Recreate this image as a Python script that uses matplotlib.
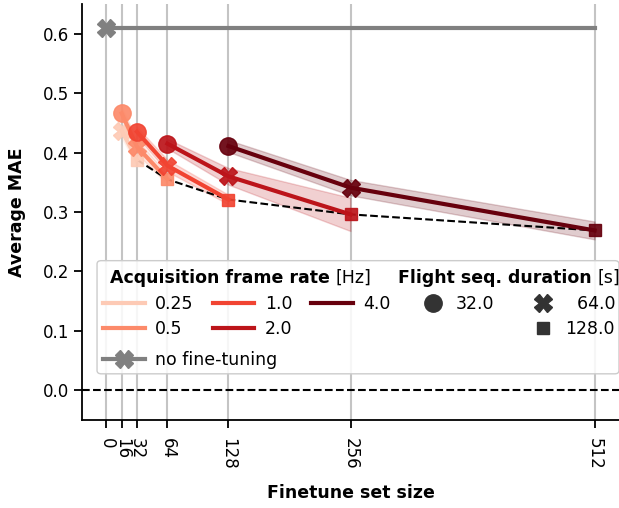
import numpy as np
import pandas as pd
import matplotlib.pyplot as plt
from matplotlib.lines import Line2D
from matplotlib.patches import FancyBboxPatch
from matplotlib.transforms import offset_copy

# acquisition frame rates [Hz] and flight sequence durations [s]
rates = [0.25, 0.5, 1.0, 2.0, 4.0]
durations = [32.0, 64.0, 128.0]

# average MAE per rate, one value per duration (nan = not run)
mae_025 = [np.nan, 0.437, 0.388]
mae_05 = [0.466, 0.410, 0.355]
mae_1 = [0.435, 0.378, 0.321]
mae_2 = [0.415, 0.360, 0.296]
mae_4 = [0.411, 0.341, 0.269]

# spread of the shaded bands
std_025 = [np.nan, 0.012, 0.010]
std_05 = [0.010, 0.012, 0.008]
std_1 = [0.008, 0.010, 0.008]
std_2 = [0.008, 0.014, 0.028]
std_4 = [0.010, 0.013, 0.015]

no_finetune_mae = 0.61

mae_all = [mae_025, mae_05, mae_1, mae_2, mae_4]
std_all = [std_025, std_05, std_1, std_2, std_4]

rows = []
for r, m_list, s_list in zip(rates, mae_all, std_all):
    for d, m, s in zip(durations, m_list, s_list):
        rows.append([r, d, r * d, m, s])
df = pd.DataFrame(rows, columns=["rate", "duration", "size", "mae", "std"]).dropna()

renk = plt.cm.Reds(np.linspace(0.2, 1.0, len(rates)))
markers = {32.0: "o", 64.0: "X", 128.0: (4, 0, 45)}
MS = 12.5
FS = 12.5

plt.rcParams["font.family"] = "DejaVu Sans"
plt.rcParams["font.size"] = 12

fig = plt.figure(figsize=(6.19, 5.08), dpi=100)
ax = fig.add_axes([82 / 619, 88 / 508, 537 / 619, 416 / 508])

ticks = [0] + sorted(df["size"].unique().tolist())
ax.set_xticks(ticks)
ax.set_xticklabels([str(int(t)) for t in ticks], rotation=270)
ax.grid(axis="x", color="#c4c4c4", lw=1.5, zorder=0)
ax.set_axisbelow(True)

# no fine-tuning baseline
ax.plot([0, max(ticks)], [no_finetune_mae, no_finetune_mae], color="grey", lw=3,
        marker="X", ms=MS, markevery=[0], zorder=2)
ax.axhline(0, color="k", ls="--", lw=1.5, zorder=2)

# best result per set size
best = df.groupby("size")["mae"].min()
ax.plot(best.index, best.values, color="k", ls="--", lw=1.5, zorder=2.5)

for i, r in enumerate(rates):
    sub = df[df["rate"] == r].sort_values("size")
    c = renk[i]
    z = 3 + i * 0.1
    ax.fill_between(sub["size"], sub["mae"] - sub["std"], sub["mae"] + sub["std"],
                    color=c, alpha=0.2, lw=1, zorder=1.5)
    ax.plot(sub["size"], sub["mae"], color=c, lw=3, zorder=z)
    for _, row in sub.iterrows():
        ax.plot(row["size"], row["mae"], ls="none", marker=markers[row["duration"]],
                ms=MS, color=c, mec=c, alpha=0.92, zorder=z + 0.05)

ax.set_xlim(-25.6, 537.6)
ax.set_ylim(-0.05, 0.65)
ax.set_yticks([0.0, 0.1, 0.2, 0.3, 0.4, 0.5, 0.6])
ax.set_yticklabels(["0.0", "0.1", "0.2", "0.3", "0.4", "0.5", "0.6"])
ax.set_xlabel("Finetune set size", fontweight="bold", fontsize=FS, labelpad=10)
ax.set_ylabel("Average MAE", fontweight="bold", fontsize=FS, labelpad=12)
for s in ["top", "right"]:
    ax.spines[s].set_visible(False)
for s in ["left", "bottom"]:
    ax.spines[s].set_linewidth(1.3)
ax.tick_params(length=6, width=1.3)
ax.tick_params(axis="x", pad=7)

# legend frame
kutu = FancyBboxPatch((0.028, 0.111), 0.972, 0.272, boxstyle="round,pad=0,rounding_size=0.008",
                      transform=ax.transAxes, fc=(1, 1, 1, 0.85), ec="#cccccc", lw=1,
                      zorder=4.9, clip_on=False)
ax.add_patch(kutu)

# legend titles: bold name + plain unit
fig.canvas.draw()
for x0, isim, birim in [(0.052, "Acquisition frame rate", "[Hz]"),
                        (0.5885, "Flight seq. duration", "[s]")]:
    t = ax.text(x0, 0.329, isim, transform=ax.transAxes, fontsize=FS, fontweight="bold",
                ha="left", va="baseline", zorder=6)
    bb = t.get_window_extent(renderer=fig.canvas.get_renderer())
    x1 = ax.transAxes.inverted().transform((bb.x1, bb.y0))[0]
    ax.text(x1, 0.329, birim, transform=offset_copy(ax.transAxes, fig=fig, x=6, units="dots"),
            fontsize=FS, ha="left", va="baseline", zorder=6)

blank = Line2D([], [], ls="none")
hA = [Line2D([], [], color=c, lw=3) for c in renk] + [blank]
lA = [str(r) for r in rates] + [""]
legA = ax.legend(hA, lA, loc="upper left", bbox_to_anchor=(0.039, 0.300), ncol=3,
                 frameon=False, fontsize=FS, handlelength=2.4, handletextpad=0.6,
                 columnspacing=1.1, labelspacing=0.4, borderpad=0, borderaxespad=0)
ax.add_artist(legA)

hC = [Line2D([], [], color="grey", lw=3, marker="X", ms=MS)]
legC = ax.legend(hC, ["no fine-tuning"], loc="upper left", bbox_to_anchor=(0.039, 0.165),
                 frameon=False, fontsize=FS, handlelength=2.4, handletextpad=0.6,
                 borderpad=0, borderaxespad=0)
ax.add_artist(legC)

hB = [Line2D([], [], ls="none", marker=markers[d], ms=MS, color="#333333") for d in durations]
hB = [hB[0], blank, hB[1], hB[2]]
lB = ["32.0", "", "  64.0", "128.0"]
legB = ax.legend(hB, lB, loc="upper right", bbox_to_anchor=(0.9926, 0.300), ncol=2,
                 frameon=False, fontsize=FS, handlelength=1.0, handletextpad=0.8,
                 columnspacing=2.3, labelspacing=0.4, borderpad=0, borderaxespad=0)
for lg in [legA, legB, legC]:
    lg.set_zorder(5)

fig.savefig("out.png", dpi=100)
